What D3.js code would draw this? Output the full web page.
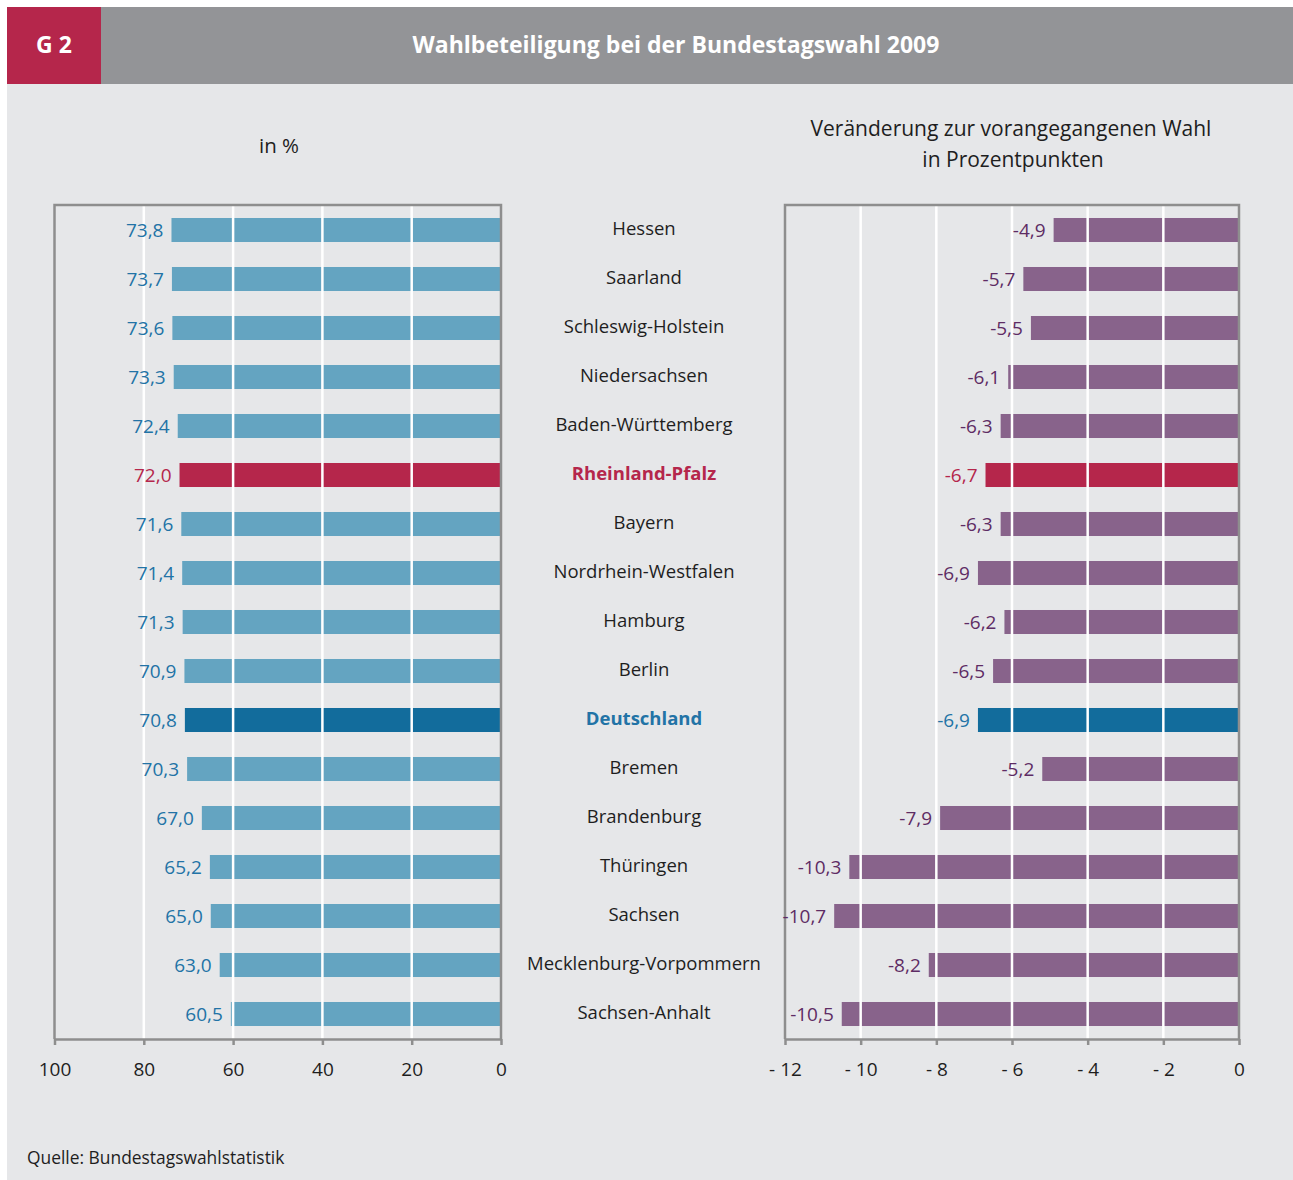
<!DOCTYPE html>
<html><head><meta charset="utf-8">
<script src="https://cdn.jsdelivr.net/npm/d3@7"></script>
<style>
html,body{margin:0;padding:0;background:#fff;}
svg{display:block;font-family:"Open Sans",sans-serif;}
</style></head>
<body><svg id="c" width="1293" height="1180"></svg>
<script>
const categories = ["Hessen","Saarland","Schleswig-Holstein","Niedersachsen","Baden-Württemberg","Rheinland-Pfalz","Bayern","Nordrhein-Westfalen","Hamburg","Berlin","Deutschland","Bremen","Brandenburg","Thüringen","Sachsen","Mecklenburg-Vorpommern","Sachsen-Anhalt"];
const turnout = [73.8,73.7,73.6,73.3,72.4,72.0,71.6,71.4,71.3,70.9,70.8,70.3,67.0,65.2,65.0,63.0,60.5];
const change = [-4.9,-5.7,-5.5,-6.1,-6.3,-6.7,-6.3,-6.9,-6.2,-6.5,-6.9,-5.2,-7.9,-10.3,-10.7,-8.2,-10.5];
const leftTicks = [100,80,60,40,20,0];
const rightTicks = [-12,-10,-8,-6,-4,-2,0];
const highlightRP = "Rheinland-Pfalz";
const highlightDE = "Deutschland";

const C = {
  bg:"#e6e7e9", header:"#939497", red:"#b5264b", blue:"#64a4c1", dblue:"#126c9c",
  purple:"#88638b", ptext:"#5e2c64", btext:"#2273a6", frame:"#8e8e8e", text:"#1e1e1e"
};
const locale = d3.formatLocale({decimal:",", thousands:".", grouping:[3], currency:["","€"], minus:"-"});
const fmt = locale.format(".1f");

const svg = d3.select("#c");
svg.append("rect").attr("x",7).attr("y",7).attr("width",1286).attr("height",1173).attr("fill",C.bg);
svg.append("rect").attr("x",7).attr("y",7).attr("width",1286).attr("height",77).attr("fill",C.header);
svg.append("rect").attr("x",7).attr("y",7).attr("width",94).attr("height",77).attr("fill",C.red);
svg.append("text").attr("x",54).attr("y",53).attr("text-anchor","middle").attr("fill","#fff")
  .attr("font-size",23).attr("font-weight","bold").text("G 2");
svg.append("text").attr("x",676).attr("y",53).attr("text-anchor","middle").attr("fill","#fff")
  .attr("font-size",23).attr("font-weight","bold").text("Wahlbeteiligung bei der Bundestagswahl 2009");

svg.append("text").attr("x",279).attr("y",153).attr("text-anchor","middle").attr("fill",C.text)
  .attr("font-size",20.5).text("in %");
svg.append("text").attr("x",1011).attr("y",136).attr("text-anchor","middle").attr("fill",C.text)
  .attr("font-size",21).text("Veränderung zur vorangegangenen Wahl");
svg.append("text").attr("x",1013).attr("y",167).attr("text-anchor","middle").attr("fill",C.text)
  .attr("font-size",21).text("in Prozentpunkten");
svg.append("text").attr("x",27).attr("y",1164).attr("fill",C.text)
  .attr("font-size",17.4).text("Quelle: Bundestagswahlstatistik");

const plotTop = 205, plotBottom = 1039;
const y = d3.scaleBand().domain(categories).range([plotTop+0.5, plotBottom-0.5]).paddingInner(0.51).paddingOuter(0.255);

function barColor(c, base){ return c===highlightRP?C.red:(c===highlightDE?C.dblue:base); }
function textColor(c, base){ return c===highlightRP?C.red:(c===highlightDE?C.btext:base); }

function panel(xs, values, ticks, base, baseText, tickFmt){
  const g = svg.append("g");
  const [x0,x1] = xs.range();
  g.selectAll("rect.bar").data(categories).join("rect").attr("class","bar")
    .attr("x",(c,i)=>xs(values[i])).attr("width",(c,i)=>xs(0)-xs(values[i]))
    .attr("y",c=>y(c)).attr("height",y.bandwidth()).attr("fill",c=>barColor(c,base));
  g.selectAll("line.grid").data(ticks.slice(1,-1)).join("line").attr("class","grid")
    .attr("x1",d=>xs(d)).attr("x2",d=>xs(d)).attr("y1",plotTop).attr("y2",plotBottom)
    .attr("stroke","#fff").attr("stroke-width",2.5);
  g.append("path").attr("d",`M${x0},${plotBottom}V${plotTop}H${x1}V${plotBottom}`).attr("fill","none")
    .attr("stroke",C.frame).attr("stroke-width",2.5);
  const ax = g.append("g").attr("transform",`translate(0,${plotBottom})`)
    .call(d3.axisBottom(xs).tickValues(ticks).tickSize(6).tickSizeOuter(0).tickFormat(tickFmt));
  ax.select(".domain").attr("stroke",C.frame).attr("stroke-width",2.5);
  ax.selectAll(".tick line").attr("stroke",C.frame).attr("stroke-width",2.5);
  ax.selectAll(".tick text").attr("fill",C.text).attr("font-size",19).attr("font-family","Open Sans").attr("dy","1.1em").attr("y",16);
  g.selectAll("text.val").data(categories).join("text").attr("class","val")
    .attr("x",(c,i)=>xs(values[i])-8).attr("y",c=>y(c)+y.bandwidth()/2).attr("dy","0.35em")
    .attr("text-anchor","end").attr("font-size",19).attr("fill",c=>textColor(c,baseText))
    .text((c,i)=>fmt(values[i]));
}

const xl = d3.scaleLinear().domain([100,0]).range([54.5,501]);
panel(xl, turnout, leftTicks, C.blue, C.btext, d=>d);
const xr = d3.scaleLinear().domain([-12,0]).range([785,1239]);
panel(xr, change, rightTicks, C.purple, C.ptext, d=>d===0?"0":"- "+Math.abs(d));

svg.append("g").selectAll("text").data(categories).join("text")
  .attr("x",644).attr("y",c=>y(c)+y.bandwidth()/2-1.5).attr("dy","0.35em").attr("text-anchor","middle")
  .attr("font-size",18.5).attr("font-weight",c=>(c===highlightRP||c===highlightDE)?"bold":"normal")
  .attr("fill",c=>textColor(c,C.text)).text(c=>c);
</script></body></html>
